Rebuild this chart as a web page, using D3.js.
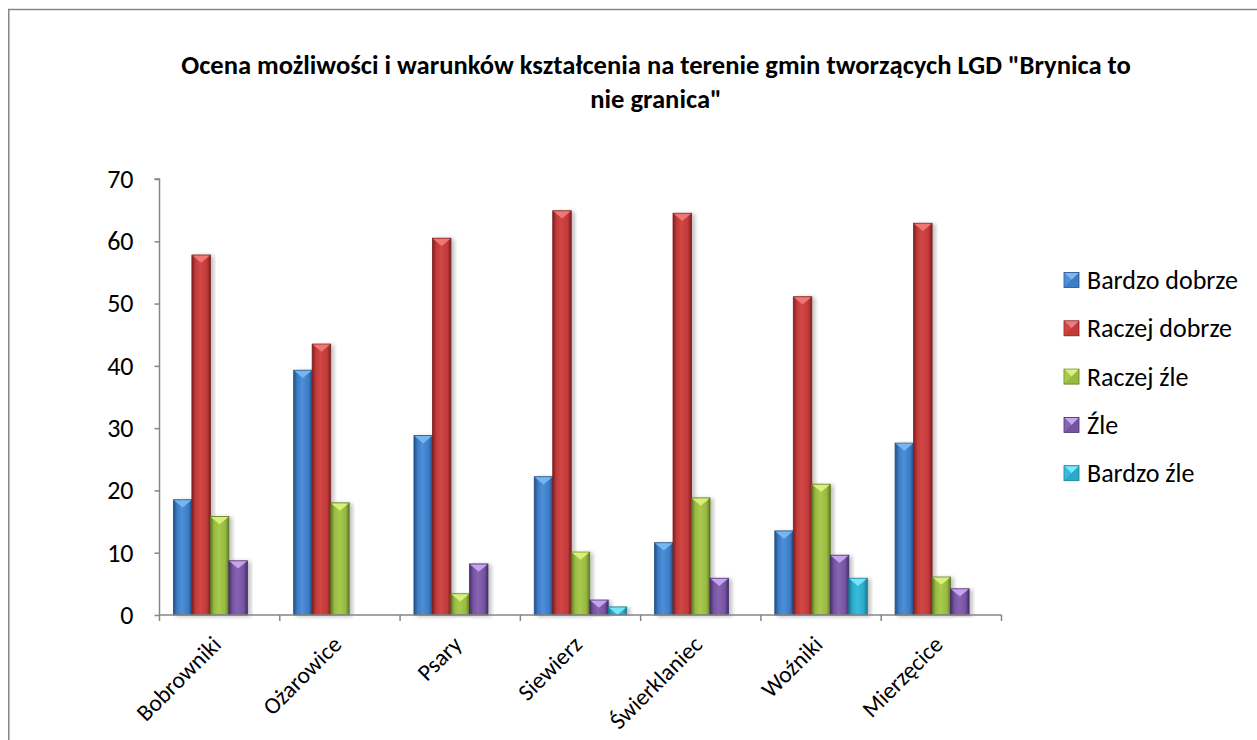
<!DOCTYPE html>
<html><head><meta charset="utf-8">
<script src="https://cdn.jsdelivr.net/npm/d3@7"></script>
<style>body{margin:0;background:#fff}svg{display:block}</style>
</head><body>
<script>
const categories = ["Bobrowniki","Ożarowice","Psary","Siewierz","Świerklaniec","Woźniki","Mierzęcice"];
const seriesNames = ["Bardzo dobrze","Raczej dobrze","Raczej źle","Źle","Bardzo źle"];
const bardzoDobrze = [18.5, 39.3, 28.8, 22.2, 11.6, 13.5, 27.6];
const raczejDobrze = [57.8, 43.5, 60.5, 64.9, 64.5, 51.1, 62.9];
const raczejZle    = [15.8, 18.0, 3.4, 10.1, 18.8, 21.0, 6.1];
const zle          = [8.7, 0, 8.2, 2.4, 5.9, 9.6, 4.2];
const bardzoZle    = [0, 0, 0, 1.3, 0, 5.9, 0];
const yTicks = [0,10,20,30,40,50,60,70];
const titleLines = ['Ocena możliwości i warunków kształcenia na terenie gmin tworzących LGD "Brynica to', 'nie granica"'];

const seriesValues = [bardzoDobrze, raczejDobrze, raczejZle, zle, bardzoZle];
const colors = [
  {dark:"#234f86", mid:"#3d7cc6", light:"#4d8fd8", tri:"#79b8f0"},
  {dark:"#7f1f1f", mid:"#c03b3a", light:"#d24645", tri:"#f07a78"},
  {dark:"#5d7a22", mid:"#98ba42", light:"#a8ca4e", tri:"#dcf27a"},
  {dark:"#452e68", mid:"#7654a2", light:"#8664b2", tri:"#c9a6f0"},
  {dark:"#187a92", mid:"#2aaacb", light:"#39bcdb", tri:"#79e8fa"}
];

const W = 1257, H = 740;
const svg = d3.select("body").append("svg").attr("width", W).attr("height", H);
const defs = svg.append("defs");

colors.forEach((c,i)=>{
  const g = defs.append("linearGradient").attr("id","g"+i).attr("x1","0").attr("x2","1").attr("y1","0").attr("y2","0");
  g.append("stop").attr("offset","0%").attr("stop-color",c.dark);
  g.append("stop").attr("offset","20%").attr("stop-color",c.mid);
  g.append("stop").attr("offset","45%").attr("stop-color",c.light);
  g.append("stop").attr("offset","80%").attr("stop-color",c.mid);
  g.append("stop").attr("offset","100%").attr("stop-color",c.dark);
});
const f = defs.append("filter").attr("id","sh").attr("x","-30%").attr("y","-10%").attr("width","160%").attr("height","120%");
f.append("feGaussianBlur").attr("in","SourceAlpha").attr("stdDeviation","2.2").attr("result","b");
f.append("feOffset").attr("in","b").attr("dx","3").attr("dy","1").attr("result","o");
f.append("feComponentTransfer").attr("in","o").attr("result","o2").append("feFuncA").attr("type","linear").attr("slope","0.25");
const fm = f.append("feMerge");
fm.append("feMergeNode").attr("in","o2");
fm.append("feMergeNode").attr("in","SourceGraphic");

// outer chart border
svg.append("rect").attr("x",8.75).attr("y",9.5).attr("width",1260).attr("height",740)
  .attr("fill","#fff").attr("stroke","#868686").attr("stroke-width",1.5);

const font = "Carlito, Calibri, Lato, 'Open Sans', sans-serif";

// title
svg.append("text").attr("x",656).attr("y",74).attr("text-anchor","middle")
  .attr("font-family",font).attr("font-weight","bold").attr("font-size",26.6).attr("fill","#000")
  .selectAll("tspan").data(titleLines).join("tspan")
  .attr("x",656).attr("dy",(d,i)=>i?34:0).text(d=>d);

const pLeft = 159.5, pRight = 1001.5, pTop = 179, pBottom = 615;
const y = d3.scaleLinear().domain([0,70]).range([pBottom, pTop]);
const x0 = d3.scaleBand().domain(categories).range([pLeft, pRight]).paddingInner(0).paddingOuter(0);
const bw = x0.bandwidth();
const x1 = d3.scaleBand().domain(d3.range(seriesNames.length)).range([bw*0.75/6.5, bw - bw*0.75/6.5]).padding(0);

const plot = svg.append("g");

categories.forEach((cat, ci)=>{
  seriesValues.forEach((vals, si)=>{
    const v = vals[ci];
    if (!v) return;
    const bx = x0(cat) + x1(si);
    const w = x1.bandwidth();
    const ty = y(v), hh = pBottom - ty;
    const g = plot.append("g");
    g.append("rect").attr("x",bx).attr("y",ty).attr("width",w).attr("height",hh)
      .attr("fill","url(#g"+si+")").attr("stroke",colors[si].dark).attr("stroke-width",0.8)
      .attr("filter","url(#sh)");
    const th = Math.min(w*0.42, hh);
    g.append("path").attr("d",`M${bx+0.5},${ty+0.5} L${bx+w-0.5},${ty+0.5} L${bx+w/2},${ty+th} Z`)
      .attr("fill",colors[si].tri).attr("opacity",0.95);
  });
});

// axes
const yAxis = d3.axisLeft(y).tickValues(yTicks).tickSize(5).tickPadding(21);
const gy = svg.append("g").attr("transform",`translate(${pLeft},0)`).call(yAxis);
gy.select(".domain").attr("stroke","#868686").attr("stroke-width",1.5).attr("d",`M-5,${pTop}H0V${pBottom}`);
gy.selectAll(".tick line").attr("stroke","#868686").attr("stroke-width",1.5);
gy.selectAll(".tick text").attr("font-family",font).attr("font-size",26).attr("fill","#000");

const gx = svg.append("g").attr("transform",`translate(0,${pBottom})`);
gx.append("line").attr("x1",pLeft).attr("x2",pRight).attr("stroke","#868686").attr("stroke-width",1.5);
const bounds = categories.map(c=>x0(c)).concat([pRight]);
gx.selectAll("line.t").data(bounds).join("line").attr("class","t")
  .attr("x1",d=>d).attr("x2",d=>d).attr("y1",0).attr("y2",6).attr("stroke","#868686").attr("stroke-width",1.5);
gx.selectAll("text").data(categories).join("text")
  .attr("transform",d=>`translate(${x0(d)+bw/2+3},${31}) rotate(-45)`)
  .attr("text-anchor","end").attr("font-family",font).attr("font-size",23.5).attr("fill","#000")
  .text(d=>d);

// legend
const lg = svg.append("g");
seriesNames.forEach((n,i)=>{
  const yy = 280 + i*48.3;
  const c = colors[i];
  lg.append("rect").attr("x",1064).attr("y",yy-7.5).attr("width",15).attr("height",15)
    .attr("fill",c.mid).attr("stroke",c.dark).attr("stroke-width",0.8);
  lg.append("path").attr("d",`M1064.5,${yy-7} L1078.5,${yy-7} L1071.5,${yy} Z`).attr("fill",c.tri);
  lg.append("path").attr("d",`M1064.5,${yy-7} L1071.5,${yy} L1064.5,${yy+7} Z`).attr("fill",c.light);
  lg.append("text").attr("x",1087).attr("y",yy).attr("dy","0.35em")
    .attr("font-family",font).attr("font-size",26).attr("fill","#000").text(n);
});
</script>
</body></html>
